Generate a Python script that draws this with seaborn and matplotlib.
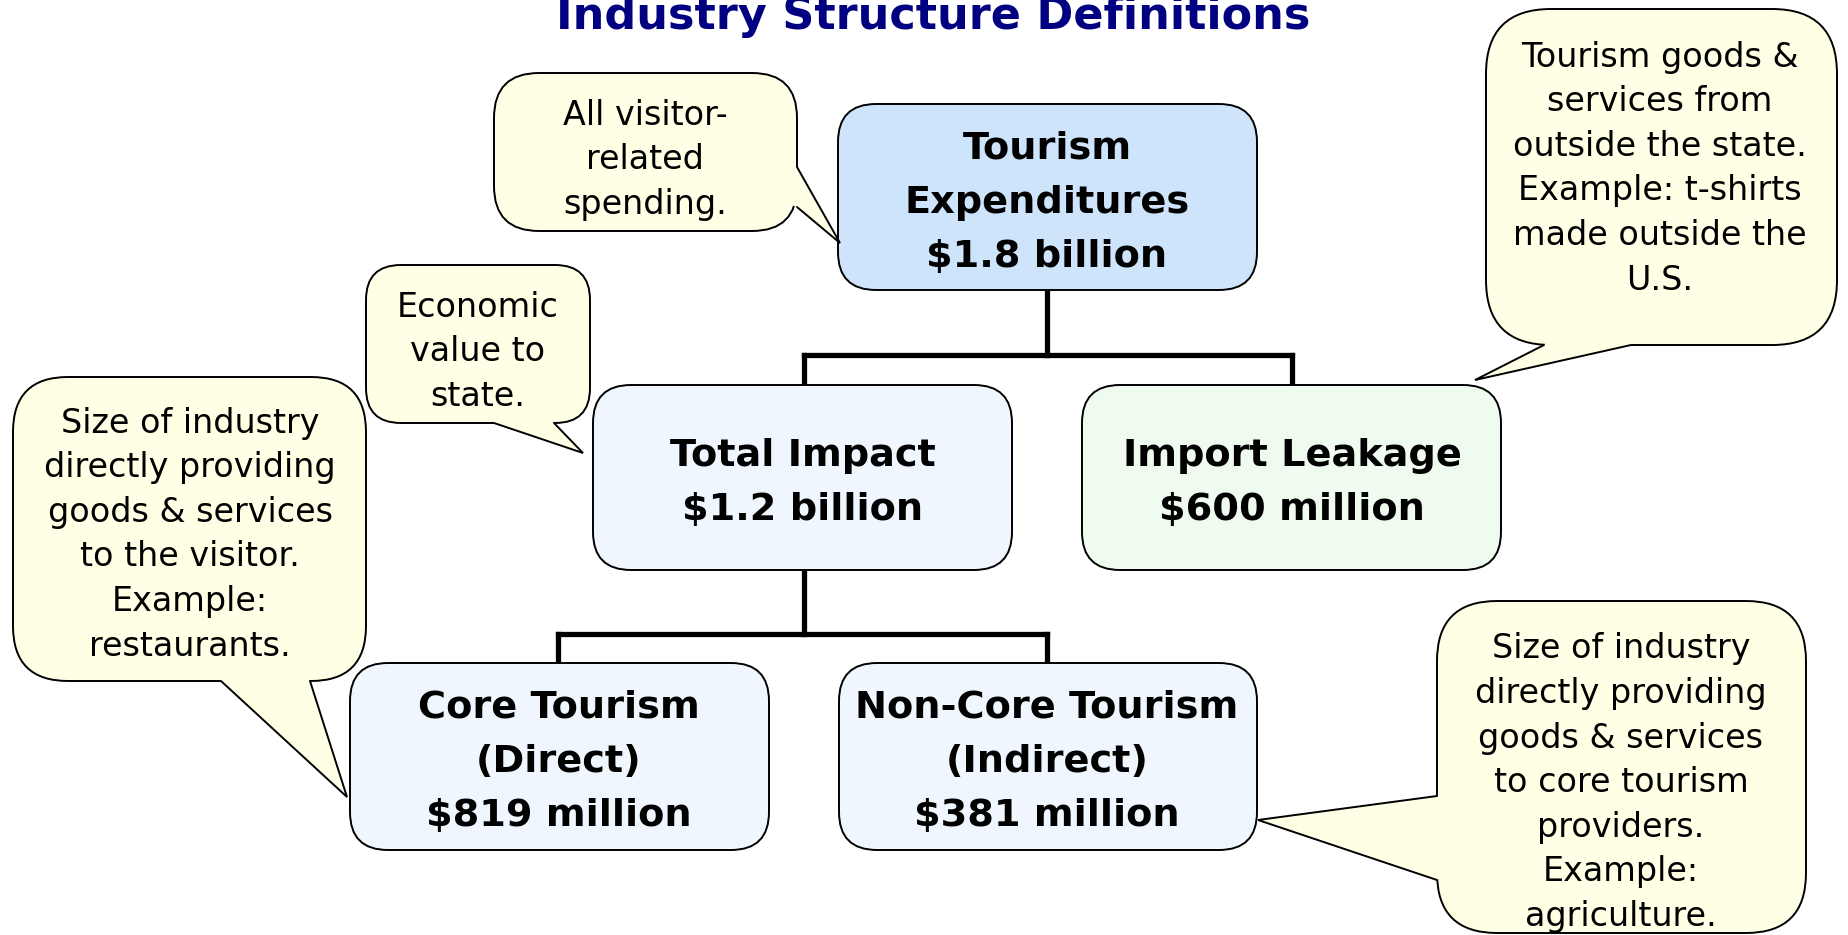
import matplotlib
matplotlib.use("Agg")
import matplotlib.pyplot as plt
import seaborn as sns
from matplotlib.patches import FancyBboxPatch, Polygon

sns.set_theme(style="white")
plt.rcParams["font.family"] = ["DejaVu Sans"]

# --- content ---
title = "Industry Structure Definitions"

box_labels = [
    "Tourism\nExpenditures\n$1.8 billion",
    "Total Impact\n$1.2 billion",
    "Import Leakage\n$600 million",
    "Core Tourism\n(Direct)\n$819 million",
    "Non-Core Tourism\n(Indirect)\n$381 million",
]

callout_texts = [
    "All visitor-\nrelated\nspending.",
    "Economic\nvalue to\nstate.",
    "Size of industry\ndirectly providing\ngoods & services\nto the visitor.\nExample:\nrestaurants.",
    "Tourism goods &\nservices from\noutside the state.\nExample: t-shirts\nmade outside the\nU.S.",
    "Size of industry\ndirectly providing\ngoods & services\nto core tourism\nproviders.\nExample:\nagriculture.",
]

# --- layout (pixel coords, y downwards) ---
W, H = 1849, 935
# x0, y0, x1, y1, fill
box_layout = [
    (838, 104, 1257, 290, "#cde4fb"),
    (593, 385, 1012, 570, "#eff6fd"),
    (1082, 385, 1501, 570, "#effbef"),
    (350, 663, 769, 850, "#eff6fd"),
    (839, 663, 1257, 850, "#eff6fd"),
]
box_text_pos = [(1047, 199), (803, 479), (1292, 479), (559, 758), (1047, 758)]

# x0, y0, x1, y1, radius, base point a, base point b, tip
callout_layout = [
    (494, 73, 797, 231, 45, (797, 167), (797, 207), (840, 243)),
    (366, 265, 590, 423, 35, (494, 423), (554, 423), (583, 453)),
    (13, 377, 366, 681, 55, (221, 681), (310, 681), (347, 797)),
    (1486, 9, 1837, 345, 65, (1544, 345), (1631, 345), (1475, 380)),
    (1437, 601, 1806, 933, 60, (1437, 796), (1437, 880), (1258, 820)),
]
callout_text_pos = [(645, 157), (478, 349), (190, 532), (1660, 166), (1621, 780)]

callout_fill = "#ffffe5"
line_w = 3.8
edge_w = 1.4


def draw_lines(ax, text, cx, cy, pitch, size, weight="normal", color="black"):
    lines = text.split("\n")
    n = len(lines)
    px = size / 0.72
    for i, ln in enumerate(lines):
        y = cy + (i - (n - 1) / 2) * pitch + 0.365 * px
        ax.text(cx, y, ln, ha="center", va="baseline", fontsize=size,
                fontweight=weight, color=color)


fig = plt.figure(figsize=(W / 100, H / 100), dpi=100)
ax = fig.add_axes([0, 0, 1, 1])
ax.set_xlim(0, W)
ax.set_ylim(H, 0)
ax.axis("off")

# connectors
conn = dict(color="black", lw=line_w, solid_capstyle="projecting", zorder=1)
ax.plot([1047, 1047], [290, 355], **conn)
ax.plot([804, 1292], [355, 355], **conn)
ax.plot([804, 804], [355, 385], **conn)
ax.plot([1292, 1292], [355, 385], **conn)
ax.plot([804, 804], [570, 634], **conn)
ax.plot([558, 1047], [634, 634], **conn)
ax.plot([558, 558], [634, 663], **conn)
ax.plot([1047, 1047], [634, 663], **conn)

# boxes
for (x0, y0, x1, y1, fc), label, (tx, ty) in zip(box_layout, box_labels, box_text_pos):
    ax.add_patch(FancyBboxPatch((x0, y0), x1 - x0, y1 - y0,
                                boxstyle="round,pad=0,rounding_size=38",
                                fc=fc, ec="black", lw=edge_w, zorder=2))
    draw_lines(ax, label, tx, ty, 54, 27.5, weight="bold")

# callouts
for (x0, y0, x1, y1, r, a, b, tip), text, (tx, ty) in zip(callout_layout, callout_texts, callout_text_pos):
    ax.add_patch(FancyBboxPatch((x0, y0), x1 - x0, y1 - y0,
                                boxstyle=f"round,pad=0,rounding_size={r}",
                                fc=callout_fill, ec="black", lw=edge_w, zorder=3))
    cxm, cym = (x0 + x1) / 2, (y0 + y1) / 2
    ia = (a[0] + (cxm - a[0]) * 0.03, a[1] + (cym - a[1]) * 0.03)
    ib = (b[0] + (cxm - b[0]) * 0.03, b[1] + (cym - b[1]) * 0.03)
    ax.add_patch(Polygon([ia, a, tip, b, ib], closed=True, fc=callout_fill,
                         ec="none", zorder=4))
    ax.plot([a[0], tip[0], b[0]], [a[1], tip[1], b[1]], color="black",
            lw=edge_w, zorder=5, solid_joinstyle="miter")
    draw_lines(ax, text, tx, ty, 44.6, 24)

ax.text(933, 29, title, ha="center", va="baseline", fontsize=32,
        fontweight="bold", color="#000080")

fig.savefig("out.png", dpi=100)
